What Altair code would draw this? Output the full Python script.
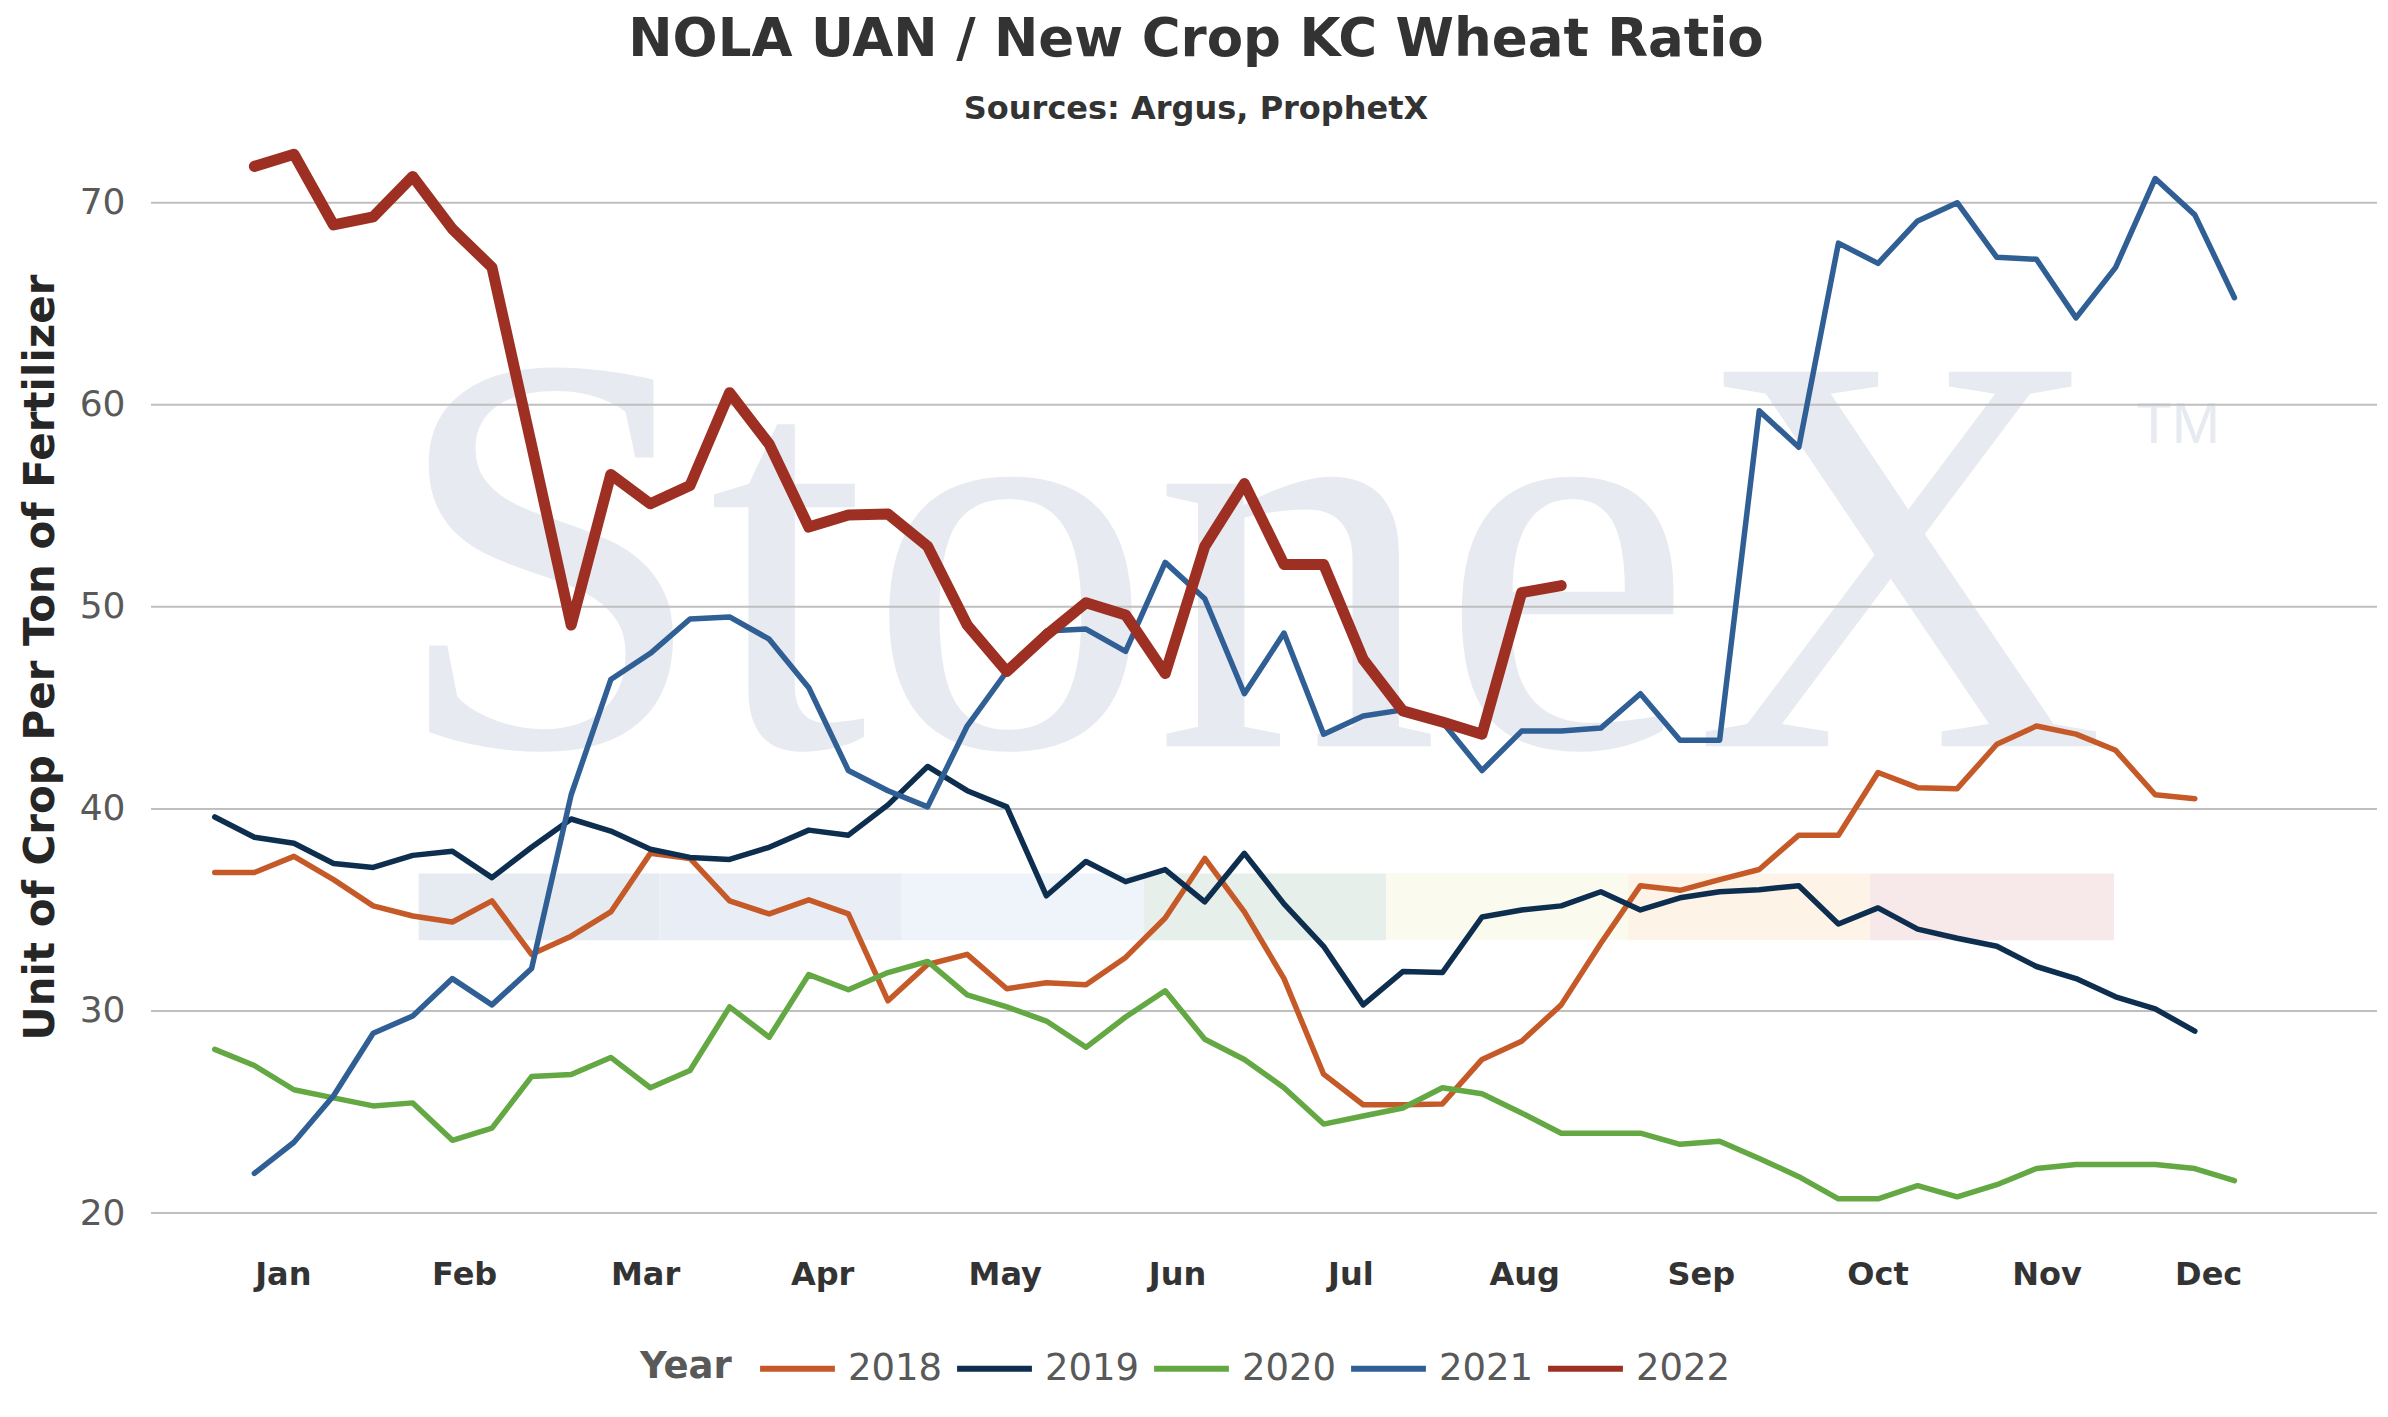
import altair as alt
import pandas as pd

# weekly NOLA UAN / new crop KC wheat ratio, one list per year
years = ["2018", "2019", "2020", "2021", "2022"]
colors = ["#c55a28", "#0d2e4e", "#64a844", "#2f5f94", "#9d3022"]
first_week = [1, 1, 1, 2, 2]

ratio_2018 = [36.85, 36.85, 37.65, 36.5, 35.2, 34.7, 34.4, 35.45, 32.8, 33.7,
              34.9, 37.8, 37.55, 35.45, 34.8, 35.5, 34.8, 30.5, 32.3, 32.8,
              31.1, 31.4, 31.3, 32.65, 34.6, 37.55, 34.9, 31.6, 26.87, 25.36,
              25.36, 25.4, 27.6, 28.5, 30.3, 33.35, 36.2, 35.97, 36.5, 37.0,
              38.7, 38.7, 41.8, 41.05, 41.0, 43.2, 44.1, 43.7, 42.9, 40.7, 40.5]
ratio_2019 = [39.6, 38.6, 38.3, 37.3, 37.1, 37.7, 37.9, 36.6, 38.1, 39.5,
              38.9, 38.0, 37.6, 37.5, 38.1, 38.95, 38.7, 40.2, 42.1, 40.9,
              40.1, 35.7, 37.4, 36.4, 37.0, 35.4, 37.8, 35.3, 33.2, 30.3,
              31.95, 31.9, 34.65, 35.0, 35.2, 35.9, 35.0, 35.6, 35.9, 36.0,
              36.2, 34.3, 35.1, 34.05, 33.6, 33.2, 32.2, 31.6, 30.7, 30.1, 29.0]
ratio_2020 = [28.1, 27.3, 26.1, 25.7, 25.3, 25.45, 23.6, 24.2, 26.75, 26.85,
              27.7, 26.2, 27.05, 30.2, 28.7, 31.8, 31.05, 31.9, 32.45, 30.8,
              30.2, 29.5, 28.2, 29.7, 31.0, 28.6, 27.6, 26.2, 24.4, 24.8,
              25.2, 26.2, 25.9, 24.95, 23.95, 23.95, 23.95, 23.4, 23.55, 22.7,
              21.8, 20.7, 20.7, 21.35, 20.8, 21.4, 22.2, 22.4, 22.4, 22.4, 22.2, 21.6]
ratio_2021 = [21.96, 23.5, 25.8, 28.9, 29.75, 31.6, 30.3, 32.1, 40.7, 46.4,
              47.7, 49.4, 49.5, 48.4, 46.0, 41.9, 40.9, 40.1, 44.1, 46.8,
              48.8, 48.9, 47.8, 52.2, 50.4, 45.7, 48.7, 43.7, 44.6, 44.9,
              44.3, 41.9, 43.85, 43.85, 44.0, 45.7, 43.4, 43.4, 59.7, 57.9,
              68.0, 67.0, 69.1, 70.0, 67.3, 67.2, 64.3, 66.8, 71.2, 69.4, 65.3]
ratio_2022 = [71.8, 72.4, 68.9, 69.3, 71.3, 68.7, 66.8, 58.0, 49.1, 56.55,
              55.1, 56.0, 60.6, 58.05, 53.95, 54.55, 54.6, 53.0, 49.1, 46.8,
              48.6, 50.2, 49.6, 46.7, 53.0, 56.1, 52.1, 52.1, 47.4, 44.85,
              44.3, 43.7, 50.7, 51.05]

months = ["Jan", "Feb", "Mar", "Apr", "May", "Jun",
          "Jul", "Aug", "Sep", "Oct", "Nov", "Dec"]
month_weeks = [2.73, 7.31, 11.88, 16.35, 20.96, 25.31,
               29.69, 34.08, 38.54, 43.0, 47.27, 51.35]
grid_values = [20, 30, 40, 50, 60, 70]

# faint StoneX logo stripes behind the lines
band_start = [6.15, 12.23, 18.35, 24.46, 30.58, 36.69, 42.8]
band_end = [12.23, 18.35, 24.46, 30.58, 36.69, 42.8, 48.96]
band_colors = ["#e6eaf1", "#e9eef6", "#eef4f9", "#e6efe9", "#fafaee", "#fdf4e7", "#f7e8e9"]
band_low, band_high = 33.5, 36.8

rows = []
for year, start, values in zip(years, first_week,
                               [ratio_2018, ratio_2019, ratio_2020, ratio_2021, ratio_2022]):
    for i, v in enumerate(values):
        rows.append({"year": year, "week": start + i, "ratio": v})
df = pd.DataFrame(rows)

bands = pd.DataFrame({"start": band_start, "end": band_end, "color": band_colors,
                      "low": band_low, "high": band_high})
grid = pd.DataFrame({"value": grid_values})
month_df = pd.DataFrame({"month": months, "week": month_weeks})

W, H = 2226, 1083
x_scale = alt.Scale(domain=[-0.61, 55.6], nice=False, zero=False)
y_scale = alt.Scale(domain=[20, 73.6], nice=False, zero=False)

# same axis on every layer so the layers merge it instead of dropping it
y_axis = alt.Axis(values=grid_values, title="Unit of Crop Per Ton of Fertilizer",
                  domain=False, ticks=False, grid=False,
                  labelFont="DejaVu Sans", labelFontSize=36, labelColor="#595959",
                  labelPadding=26, titleFont="DejaVu Sans", titleFontSize=42,
                  titleFontWeight="bold", titleColor="#262626", titlePadding=17,
                  titleY=527)


def ypos(field):
    return alt.Y(field, scale=y_scale, axis=y_axis)


band_layer = alt.Chart(bands).mark_rect().encode(
    x=alt.X("start:Q", scale=x_scale, axis=None),
    x2="end:Q",
    y=ypos("low:Q"),
    y2="high:Q",
    fill=alt.Fill("color:N", scale=None),
)

wm_layer = alt.Chart(pd.DataFrame({"w": [27.1], "v": [43.1], "t": ["StoneX"]})).mark_text(
    font="Liberation Serif", fontSize=572, color="#e7eaf0", align="center", baseline="alphabetic"
).encode(x=alt.X("w:Q", scale=x_scale, axis=None), y=ypos("v:Q"), text="t:N")

tm_layer = alt.Chart(pd.DataFrame({"w": [50.58], "v": [58.94], "t": ["TM"]})).mark_text(
    font="Liberation Sans", fontSize=58, color="#e7eaf0", align="center", baseline="middle"
).encode(x=alt.X("w:Q", scale=x_scale, axis=None), y=ypos("v:Q"), text="t:N")

grid_layer = alt.Chart(grid).mark_rule(color="#bfbfbf", strokeWidth=2).encode(
    y=ypos("value:Q")
)

month_layer = alt.Chart(month_df).mark_text(
    font="DejaVu Sans", fontSize=32, fontWeight="bold", color="#333333", baseline="middle"
).encode(x=alt.X("week:Q", scale=x_scale, axis=None), y=alt.value(H + 62), text="month:N")

# legend title drawn as text so it sits level with the entries
legend_title = alt.Chart(pd.DataFrame({"t": ["Year"]})).mark_text(
    font="DejaVu Sans", fontSize=37, fontWeight="bold", color="#595959",
    align="left", baseline="middle"
).encode(x=alt.value(489), y=alt.value(1237), text="t:N")

legend = alt.Legend(title=None, orient="none", legendX=606, legendY=1198,
                    direction="horizontal", symbolType="stroke",
                    symbolSize=5600, symbolStrokeWidth=6, labelFont="DejaVu Sans",
                    labelFontSize=37, labelColor="#595959",
                    labelOffset=10, columnPadding=2)

color = alt.Color("year:N", scale=alt.Scale(domain=years, range=colors), legend=legend)

thin = alt.Chart(df).transform_filter(alt.datum.year != "2022").mark_line(
    strokeWidth=5.5, strokeJoin="round", strokeCap="round"
).encode(
    x=alt.X("week:Q", scale=x_scale, axis=None),
    y=ypos("ratio:Q"),
    color=color,
)

thick = alt.Chart(df).transform_filter(alt.datum.year == "2022").mark_line(
    strokeWidth=11, strokeJoin="round", strokeCap="round"
).encode(
    x=alt.X("week:Q", scale=x_scale, axis=None),
    y=ypos("ratio:Q"),
    color=color,
)

chart = alt.layer(band_layer, wm_layer, tm_layer, grid_layer, month_layer, legend_title,
                  thin, thick).properties(
    width=W,
    height=H,
    padding={"left": 143, "top": 122, "right": 2, "bottom": 185},
    autosize="none",
    background="white",
    title=alt.TitleParams(
        text="NOLA UAN / New Crop KC Wheat Ratio",
        subtitle="Sources: Argus, ProphetX",
        font="DejaVu Sans", fontSize=53, fontWeight="bold", color="#333333",
        subtitleFont="DejaVu Sans", subtitleFontSize=32, subtitleFontWeight="bold",
        subtitleColor="#333333", anchor="middle", dx=-68, offset=5, subtitlePadding=27,
    ),
).configure_view(stroke=None)

chart.save("out.html", embed_options={"renderer": "svg", "actions": False})
